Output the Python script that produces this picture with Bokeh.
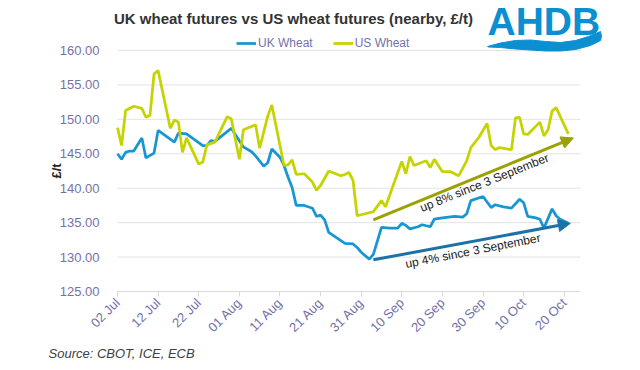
import pandas as pd
from math import pi
from bokeh.plotting import figure
from bokeh.models import (FixedTicker, NumeralTickFormatter, DatetimeTickFormatter, Legend,
                          LegendItem, Arrow, NormalHead, Label, PolyAnnotation, Range1d,
                          ColumnDataSource, Title)
from bokeh.embed import file_html
from bokeh.resources import INLINE

# ---------------- data ----------------
uk_dates = ["2021-07-02", "2021-07-03", "2021-07-04", "2021-07-05", "2021-07-06", "2021-07-08",
            "2021-07-09", "2021-07-11", "2021-07-12", "2021-07-16", "2021-07-17", "2021-07-19",
            "2021-07-23", "2021-07-24", "2021-07-25", "2021-07-26", "2021-07-30", "2021-08-02",
            "2021-08-04", "2021-08-05", "2021-08-07", "2021-08-08", "2021-08-09", "2021-08-11",
            "2021-08-12", "2021-08-13", "2021-08-14", "2021-08-15", "2021-08-17", "2021-08-19",
            "2021-08-20", "2021-08-21", "2021-08-22", "2021-08-23", "2021-08-25", "2021-08-27",
            "2021-08-29", "2021-08-30", "2021-08-31", "2021-09-02", "2021-09-03", "2021-09-05",
            "2021-09-07", "2021-09-09", "2021-09-10", "2021-09-11", "2021-09-12", "2021-09-14",
            "2021-09-15", "2021-09-17", "2021-09-18", "2021-09-20", "2021-09-23", "2021-09-25",
            "2021-09-26", "2021-09-27", "2021-09-30", "2021-10-02", "2021-10-03", "2021-10-05",
            "2021-10-07", "2021-10-09", "2021-10-10", "2021-10-11", "2021-10-13", "2021-10-14",
            "2021-10-15", "2021-10-17", "2021-10-18", "2021-10-19", "2021-10-21"]
uk_values = [145.0, 144.2, 145.2, 145.4, 145.4, 147.3,
             144.4, 145.1, 148.4, 146.7, 148.0, 147.9,
             146.2, 146.2, 146.9, 146.8, 148.7, 146.0,
             145.3, 144.7, 143.2, 143.7, 145.7, 144.5,
             143.3, 141.6, 140.1, 137.5, 137.5, 137.1,
             135.9, 136.1, 135.4, 133.6, 132.8, 132.0,
             131.9, 131.4, 130.7, 129.7, 130.4, 134.3,
             134.2, 134.2, 134.9, 134.6, 134.1, 134.4,
             134.7, 134.4, 135.5, 135.7, 135.9, 135.8,
             136.3, 138.2, 138.8, 137.2, 137.6, 137.3,
             137.1, 138.4, 137.9, 135.9, 135.7, 135.5,
             134.2, 137.0, 136.0, 135.5, 134.9]

us_dates = ["2021-07-02", "2021-07-03", "2021-07-04", "2021-07-06", "2021-07-08", "2021-07-09",
            "2021-07-10", "2021-07-11", "2021-07-12", "2021-07-15", "2021-07-16", "2021-07-17",
            "2021-07-18", "2021-07-19", "2021-07-22", "2021-07-23", "2021-07-24", "2021-07-26",
            "2021-07-29", "2021-07-30", "2021-08-01", "2021-08-02", "2021-08-05", "2021-08-06",
            "2021-08-08", "2021-08-09", "2021-08-12", "2021-08-13", "2021-08-14", "2021-08-15",
            "2021-08-17", "2021-08-19", "2021-08-20", "2021-08-21", "2021-08-23", "2021-08-26",
            "2021-08-27", "2021-08-28", "2021-08-29", "2021-08-30", "2021-09-03", "2021-09-05",
            "2021-09-06", "2021-09-08", "2021-09-10", "2021-09-11", "2021-09-12", "2021-09-13",
            "2021-09-16", "2021-09-17", "2021-09-18", "2021-09-20", "2021-09-22", "2021-09-24",
            "2021-09-26", "2021-09-27", "2021-09-29", "2021-10-01", "2021-10-02", "2021-10-03",
            "2021-10-04", "2021-10-07", "2021-10-08", "2021-10-09", "2021-10-10", "2021-10-11",
            "2021-10-14", "2021-10-15", "2021-10-16", "2021-10-17", "2021-10-18", "2021-10-21"]
us_values = [148.8, 146.2, 151.3, 151.9, 151.6, 150.3,
             150.6, 156.6, 157.1, 148.7, 149.9, 149.6,
             145.2, 147.3, 143.5, 143.8, 146.3, 146.7,
             150.4, 150.1, 144.2, 148.5, 149.2, 145.8,
             150.5, 152.1, 143.3, 143.4, 144.1, 142.0,
             142.1, 140.9, 139.7, 140.4, 142.5, 141.8,
             142.0, 142.3, 141.1, 136.0, 136.6, 138.2,
             137.3, 140.6, 143.9, 142.1, 144.6, 143.3,
             144.0, 143.0, 144.2, 142.4, 142.4, 141.8,
             144.0, 145.9, 147.4, 149.4, 146.2, 145.6,
             145.9, 145.6, 150.2, 150.3, 147.9, 147.8,
             149.6, 147.6, 148.5, 151.2, 151.7, 147.9]

tick_dates = ["2021-07-02", "2021-07-12", "2021-07-22", "2021-08-01", "2021-08-11", "2021-08-21",
              "2021-08-31", "2021-09-10", "2021-09-20", "2021-09-30", "2021-10-10", "2021-10-20"]
y_ticks = [125, 130, 135, 140, 145, 150, 155, 160]
x_limits = ("2021-07-02", "2021-10-24")
y_limits = (125, 160)

series_names = ["UK Wheat", "US Wheat"]
title_text = "UK wheat futures vs US wheat futures (nearby, £/t)"
source_text = "Source: CBOT, ICE, ECB"
y_title = "£/t"

# annotation values
uk_trend = {"start": ("2021-09-03", 129.6), "end": ("2021-10-21 12:00", 134.9)}
us_trend = {"start": ("2021-09-03", 135.4), "end": ("2021-10-22 06:00", 147.3)}
uk_trend_label = ("up 4% since 3 September", "2021-09-27 12:00", 130.9, 11.1)
us_trend_label = ("up 8% since 3 September", "2021-09-30 08:00", 140.8, 21.8)

# ---------------- style / layout ----------------
FONT = "Liberation Sans"
UK_COLOR = "#1896D3"
US_COLOR = "#C5D300"
UK_ARROW = "#1C72A6"
US_ARROW = "#9AA200"
TICK_COLOR = "#7372A8"
GRID = "#E3E3E3"
LOGO_BLUE = "#0B8FD1"
W, H = 640, 370
FL, FR, FT, FB = 107, 640, 0, 291          # drawing frame on the page (px)
PX_X0, PX_X1, PX_Y0, PX_Y1 = 117, 580, 291, 50   # where the axis limits sit (px)


def ms(s):
    return pd.Timestamp(s).value / 1e6


xmin, xmax = ms(x_limits[0]), ms(x_limits[1])
ppx = (PX_X1 - PX_X0) / (xmax - xmin)
ppy = (PX_Y0 - PX_Y1) / (y_limits[1] - y_limits[0])
x_range = Range1d(xmin - (PX_X0 - FL) / ppx, xmax + (FR - PX_X1) / ppx)
y_range = Range1d(y_limits[0] - (FB - PX_Y0) / ppy, y_limits[1] + (PX_Y1 - FT) / ppy)

p = figure(width=W, height=H, x_axis_type="datetime", output_backend="svg",
           toolbar_location=None, title=None, x_range=x_range, y_range=y_range,
           min_border_left=FL, min_border_right=W - FR, min_border_top=FT,
           min_border_bottom=H - FB)
p.outline_line_color = None
p.xgrid.grid_line_color = None
p.ygrid.grid_line_color = None

# horizontal gridlines limited to the plot area
grid_src = ColumnDataSource(dict(y=y_ticks))
p.segment(x0=xmin, x1=xmax, y0="y", y1="y", source=grid_src, line_color=GRID, line_width=1)

uk_src = ColumnDataSource(dict(x=pd.to_datetime(uk_dates), y=uk_values))
us_src = ColumnDataSource(dict(x=pd.to_datetime(us_dates), y=us_values))
r_uk = p.line("x", "y", source=uk_src, line_color=UK_COLOR, line_width=2.75)
r_us = p.line("x", "y", source=us_src, line_color=US_COLOR, line_width=2.75)

p.xaxis.ticker = FixedTicker(ticks=[ms(d) for d in tick_dates])
p.xaxis.formatter = DatetimeTickFormatter(days="%d %b", months="%d %b", years="%d %b")
p.xaxis.bounds = (xmin, xmax)
p.xaxis.major_label_orientation = pi / 4
p.xaxis.axis_line_color = "#D9D9D9"
p.xaxis.major_tick_line_color = "#D9D9D9"
p.xaxis.major_tick_out = 5
p.xaxis.major_tick_in = 0
p.xaxis.minor_tick_line_color = None
p.xaxis.major_label_text_color = TICK_COLOR
p.xaxis.major_label_text_font = FONT
p.xaxis.major_label_text_font_size = "13px"
p.xaxis.major_label_standoff = 4

p.yaxis.ticker = FixedTicker(ticks=y_ticks)
p.yaxis.formatter = NumeralTickFormatter(format="0.00")
p.yaxis.bounds = y_limits
p.yaxis.axis_line_color = None
p.yaxis.major_tick_line_color = None
p.yaxis.minor_tick_line_color = None
p.yaxis.major_label_text_color = TICK_COLOR
p.yaxis.major_label_text_font = FONT
p.yaxis.major_label_text_font_size = "13px"
p.yaxis.major_label_standoff = 2

# y-axis title placed in the left panel, centred on the value scale (offset from panel bottom)
p.add_layout(Title(text=y_title, align="left", offset=FB - 178, text_font=FONT,
                   text_font_size="13px", text_font_style="bold", text_color="#262626",
                   standoff=-14), "left")

# legend (inside the top strip of the frame)
legend = Legend(items=[LegendItem(label=series_names[0], renderers=[r_uk]),
                       LegendItem(label=series_names[1], renderers=[r_us])],
                orientation="horizontal", location=(236 - FL, FB - 50),
                background_fill_alpha=0, border_line_color=None,
                label_text_font=FONT, label_text_font_size="12px", label_text_color=TICK_COLOR,
                glyph_width=20, glyph_height=14, label_standoff=2, spacing=20,
                padding=0, margin=0, label_height=14)
p.add_layout(legend)

# trend arrows and their notes
for trend, col in ((uk_trend, UK_ARROW), (us_trend, US_ARROW)):
    (xs, ys), (xe, ye) = trend["start"], trend["end"]
    p.add_layout(Arrow(end=NormalHead(size=12, fill_color=col, line_color=col),
                       x_start=ms(xs), y_start=ys, x_end=ms(xe), y_end=ye,
                       line_color=col, line_width=3))

for txt, xd, yv, ang in (uk_trend_label, us_trend_label):
    p.add_layout(Label(x=ms(xd), y=yv, text=txt, angle=ang, angle_units="deg",
                       text_align="center", text_baseline="middle",
                       text_font=FONT, text_font_size="12px", text_color="#1A1A1A"))

# title and logo (screen units relative to the frame's bottom-left)
p.add_layout(Label(x=293 - FL, y=FB - 18, x_units="screen", y_units="screen",
                   text=title_text, text_align="center", text_baseline="middle",
                   text_font=FONT, text_font_size="15px", text_font_style="bold",
                   text_color="#333333"))
p.add_layout(Label(x=487 - FL, y=FB - 21, x_units="screen", y_units="screen", text="AHDB",
                   text_align="left", text_baseline="middle", text_font=FONT,
                   text_font_size="39px", text_font_style="bold", text_color=LOGO_BLUE))
sw_x = [487, 500, 515, 530, 545, 560, 575, 588, 600, 601,
        600, 590, 575, 560, 545, 530, 515, 500, 488]
sw_y = [46, 42.5, 40, 39.5, 41, 42, 40, 36, 31, 36,
        40, 45, 49, 50.5, 50.5, 49.5, 48.5, 47, 46.5]
p.add_layout(PolyAnnotation(xs=[a - FL for a in sw_x], ys=[FB - b for b in sw_y],
                            xs_units="screen", ys_units="screen",
                            fill_color=LOGO_BLUE, fill_alpha=1, line_color=LOGO_BLUE,
                            line_alpha=1))

# source note below the axis
p.add_layout(Title(text=source_text, align="left", offset=48 - FL, text_font=FONT,
                   text_font_size="13px", text_font_style="italic", text_color="#404040",
                   standoff=0), "below")

open("out.html", "w").write(file_html(p, INLINE))
